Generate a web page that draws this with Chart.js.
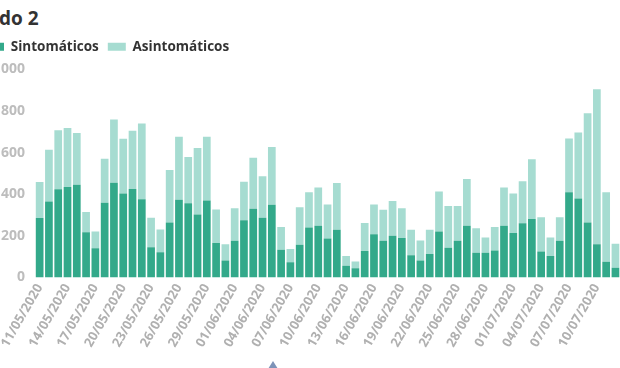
<!DOCTYPE html>
<html>
<head>
<meta charset="utf-8">
<script src="https://cdn.jsdelivr.net/npm/chart.js@4.4.1/dist/chart.umd.min.js"></script>
<style>
  html, body { margin: 0; padding: 0; background: #fff; overflow: hidden; }
  body { width: 620px; height: 368px; position: relative; font-family: "Open Sans", sans-serif; }
  #titulo { position: absolute; left: -1px; top: 5px; font-size: 19px; font-weight: 700; color: #333; }
  #wrap { position: absolute; left: -23px; top: 0; width: 656px; height: 368px; }
  #marca { position: absolute; left: 268px; top: 361px; width: 0; height: 0;
    border-left: 5px solid transparent; border-right: 5px solid transparent; border-bottom: 8px solid #7d93b8; }
</style>
</head>
<body>
<div id="titulo">do 2</div>
<div id="wrap"><canvas id="grafico"></canvas></div>
<div id="marca"></div>
<script>
// fechas 11/05/2020 - 12/07/2020
const fechas = [
  '11/05/2020','12/05/2020','13/05/2020','14/05/2020','15/05/2020','16/05/2020','17/05/2020',
  '18/05/2020','19/05/2020','20/05/2020','21/05/2020','22/05/2020','23/05/2020','24/05/2020',
  '25/05/2020','26/05/2020','27/05/2020','28/05/2020','29/05/2020','30/05/2020','31/05/2020',
  '01/06/2020','02/06/2020','03/06/2020','04/06/2020','05/06/2020','06/06/2020','07/06/2020',
  '08/06/2020','09/06/2020','10/06/2020','11/06/2020','12/06/2020','13/06/2020','14/06/2020',
  '15/06/2020','16/06/2020','17/06/2020','18/06/2020','19/06/2020','20/06/2020','21/06/2020',
  '22/06/2020','23/06/2020','24/06/2020','25/06/2020','26/06/2020','27/06/2020','28/06/2020',
  '29/06/2020','30/06/2020','01/07/2020','02/07/2020','03/07/2020','04/07/2020','05/07/2020',
  '06/07/2020','07/07/2020','08/07/2020','09/07/2020','10/07/2020','11/07/2020','12/07/2020'
];

const sintomaticos = [
  286, 365, 424, 435, 446, 217, 140, 359, 455, 403, 425, 376, 145, 121,
  264, 373, 357, 303, 370, 165, 81, 176, 275, 330, 287, 349, 133, 73,
  157, 240, 248, 187, 229, 56, 44, 127, 208, 176, 200, 190, 106, 81,
  113, 221, 143, 176, 248, 119, 119, 129, 249, 214, 260, 281, 125, 103,
  176, 410, 379, 264, 160, 75, 46
];

const totales = [
  459, 614, 708, 719, 695, 314, 221, 571, 760, 667, 705, 740, 287, 230,
  517, 676, 579, 622, 676, 327, 160, 333, 460, 576, 486, 627, 243, 137,
  338, 410, 433, 351, 454, 103, 76, 262, 351, 325, 367, 333, 229, 178,
  229, 413, 343, 343, 473, 237, 192, 243, 432, 403, 462, 568, 289, 192,
  289, 668, 697, 789, 905, 410, 162
];

const asintomaticos = totales.map((t, i) => t - sintomaticos[i]);

const colorSint = '#33a98a';
const colorAsint = '#a6dcd1';

// un poco mas de aire debajo de la leyenda
const espacioLeyenda = {
  id: 'espacioLeyenda',
  beforeInit(chart) {
    const fitOrig = chart.legend.fit;
    chart.legend.fit = function () {
      fitOrig.bind(chart.legend)();
      this.height += 6;
    };
  }
};

new Chart(document.getElementById('grafico'), {
  type: 'bar',
  data: {
    labels: fechas,
    datasets: [
      {
        label: 'Sintomáticos',
        data: sintomaticos,
        backgroundColor: colorSint,
        barPercentage: 0.83,
        categoryPercentage: 1
      },
      {
        label: 'Asintomáticos',
        data: asintomaticos,
        backgroundColor: colorAsint,
        barPercentage: 0.83,
        categoryPercentage: 1
      }
    ]
  },
  plugins: [espacioLeyenda],
  options: {
    responsive: true,
    maintainAspectRatio: false,
    animation: false,
    layout: {
      padding: { top: 31, right: 5, bottom: 14, left: 0 }
    },
    plugins: {
      legend: {
        position: 'top',
        align: 'start',
        labels: {
          boxWidth: 18,
          boxHeight: 8,
          padding: 9,
          color: '#333',
          font: { family: 'Open Sans', size: 13.5, weight: 'bold' }
        }
      },
      tooltip: { enabled: false }
    },
    scales: {
      x: {
        stacked: true,
        grid: { display: false, drawTicks: false },
        border: { display: false },
        ticks: {
          autoSkip: false,
          maxRotation: 60,
          minRotation: 60,
          padding: 4,
          color: '#b0b0b0',
          font: { family: 'Open Sans', size: 13, weight: 'bold' },
          callback: function (val, i) {
            return i % 3 === 0 ? fechas[i] : '';
          }
        }
      },
      y: {
        stacked: true,
        min: 0,
        max: 1000,
        grid: { display: false, drawTicks: false },
        border: { display: false },
        afterFit: (axis) => { axis.width = 58; },
        ticks: {
          stepSize: 200,
          padding: 10,
          color: '#bdbdbd',
          font: { family: 'Open Sans', size: 14, weight: 'bold' }
        }
      }
    }
  }
});
</script>
</body>
</html>
